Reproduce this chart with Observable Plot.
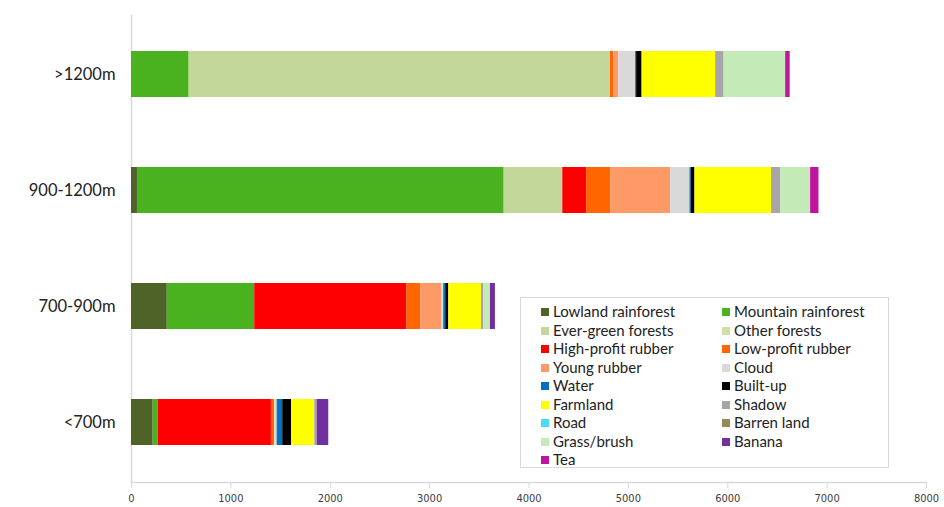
<!DOCTYPE html>
<html>
<head>
<meta charset="utf-8">
<script src="https://cdn.jsdelivr.net/npm/d3@7"></script>
<script src="https://cdn.jsdelivr.net/npm/@observablehq/plot@0.6"></script>
<style>
  html, body { margin: 0; padding: 0; background: #fff; }
  #wrap { position: relative; width: 944px; height: 507px; }
  #legend { position: absolute; left: 520px; top: 297px; width: 367px; height: 169px;
            border: 1px solid #d9d9d9; background: #fff; font-family: Lato, "Open Sans", sans-serif;
            font-size: 15px; color: #222; }
  .item { position: absolute; white-space: nowrap; line-height: 16px; }
  .sw { display: inline-block; width: 8px; height: 8px; margin-right: 4px; vertical-align: 1px; }
</style>
</head>
<body>
<div id="wrap"></div>
<script>
const zones = [">1200m", "900-1200m", "700-900m", "<700m"];
const landCovers = ["Lowland rainforest", "Mountain rainforest", "Ever-green forests", "Other forests",
  "High-profit rubber", "Low-profit rubber", "Young rubber", "Cloud", "Water", "Built-up",
  "Farmland", "Shadow", "Road", "Barren land", "Grass/brush", "Banana", "Tea"];
const colors = ["#4f6228", "#4ab21e", "#c4d79b", "#cfdfa6", "#ff0000", "#ff6600", "#ff9966",
  "#d9d9d9", "#0070c0", "#000000", "#ffff00", "#a6a6a6", "#4bdcf5", "#948a54", "#c4eab8",
  "#7030a0", "#c0149f"];
const valuesAbove1200 = [0, 580, 4240, 0, 0, 33, 50, 170, 10, 55, 740, 85, 0, 0, 620, 0, 45];
const values900to1200 = [60, 3690, 590, 0, 240, 245, 600, 195, 13, 37, 771, 94, 0, 0, 299, 0, 84];
const values700to900 = [360, 880, 0, 0, 1530, 140, 209, 23, 20, 31, 328, 23, 0, 0, 68, 50, 0];
const valuesBelow700 = [218, 50, 0, 0, 1140, 34, 0, 24, 56, 90, 232, 24, 0, 0, 0, 117, 0];
const xTicks = [0, 1000, 2000, 3000, 4000, 5000, 6000, 7000, 8000];

const series = [valuesAbove1200, values900to1200, values700to900, valuesBelow700];
const data = [];
zones.forEach((z, i) => landCovers.forEach((c, j) => {
  if (series[i][j] > 0) data.push({zone: z, cover: c, value: series[i][j]});
}));

const chart = Plot.plot({
  width: 944,
  height: 507,
  marginLeft: 131,
  marginRight: 18,
  marginTop: 15,
  marginBottom: 25,
  style: {fontFamily: "Lato, sans-serif", background: "#fff"},
  x: {domain: [0, 8000], ticks: xTicks, label: null},
  y: {domain: zones, paddingInner: 0.6, paddingOuter: 0.3, label: null},
  color: {domain: landCovers, range: colors},
  marks: [
    Plot.frame({anchor: "left", stroke: "#d9d9d9", strokeWidth: 1.5}),
    Plot.frame({anchor: "bottom", stroke: "#d9d9d9", strokeWidth: 1.5}),
    Plot.barX(data, Plot.stackX({
      x: "value", y: "zone", fill: "cover", z: "cover", order: landCovers
    })),
    Plot.axisX({ticks: xTicks, tickSize: 6, stroke: "#d9d9d9", tickPadding: 6,
      fontSize: 11, fill: "#404040", tickFormat: d => String(d),
      fontFamily: "'Liberation Sans Narrow', 'DejaVu Sans Condensed', sans-serif"}),
    Plot.axisY({tickSize: 0, tickPadding: 16, fontSize: 16.5, fill: "#222"})
  ]
});

const wrap = document.getElementById("wrap");
wrap.appendChild(chart);

const legend = document.createElement("div");
legend.id = "legend";
landCovers.forEach((c, i) => {
  const col = i % 2, row = Math.floor(i / 2);
  const it = document.createElement("div");
  it.className = "item";
  it.style.left = (col === 0 ? 20 : 201) + "px";
  it.style.top = (5 + row * 18.5) + "px";
  const sw = document.createElement("span");
  sw.className = "sw";
  sw.style.background = colors[i];
  it.appendChild(sw);
  it.appendChild(document.createTextNode(c));
  legend.appendChild(it);
});
wrap.appendChild(legend);
</script>
</body>
</html>
